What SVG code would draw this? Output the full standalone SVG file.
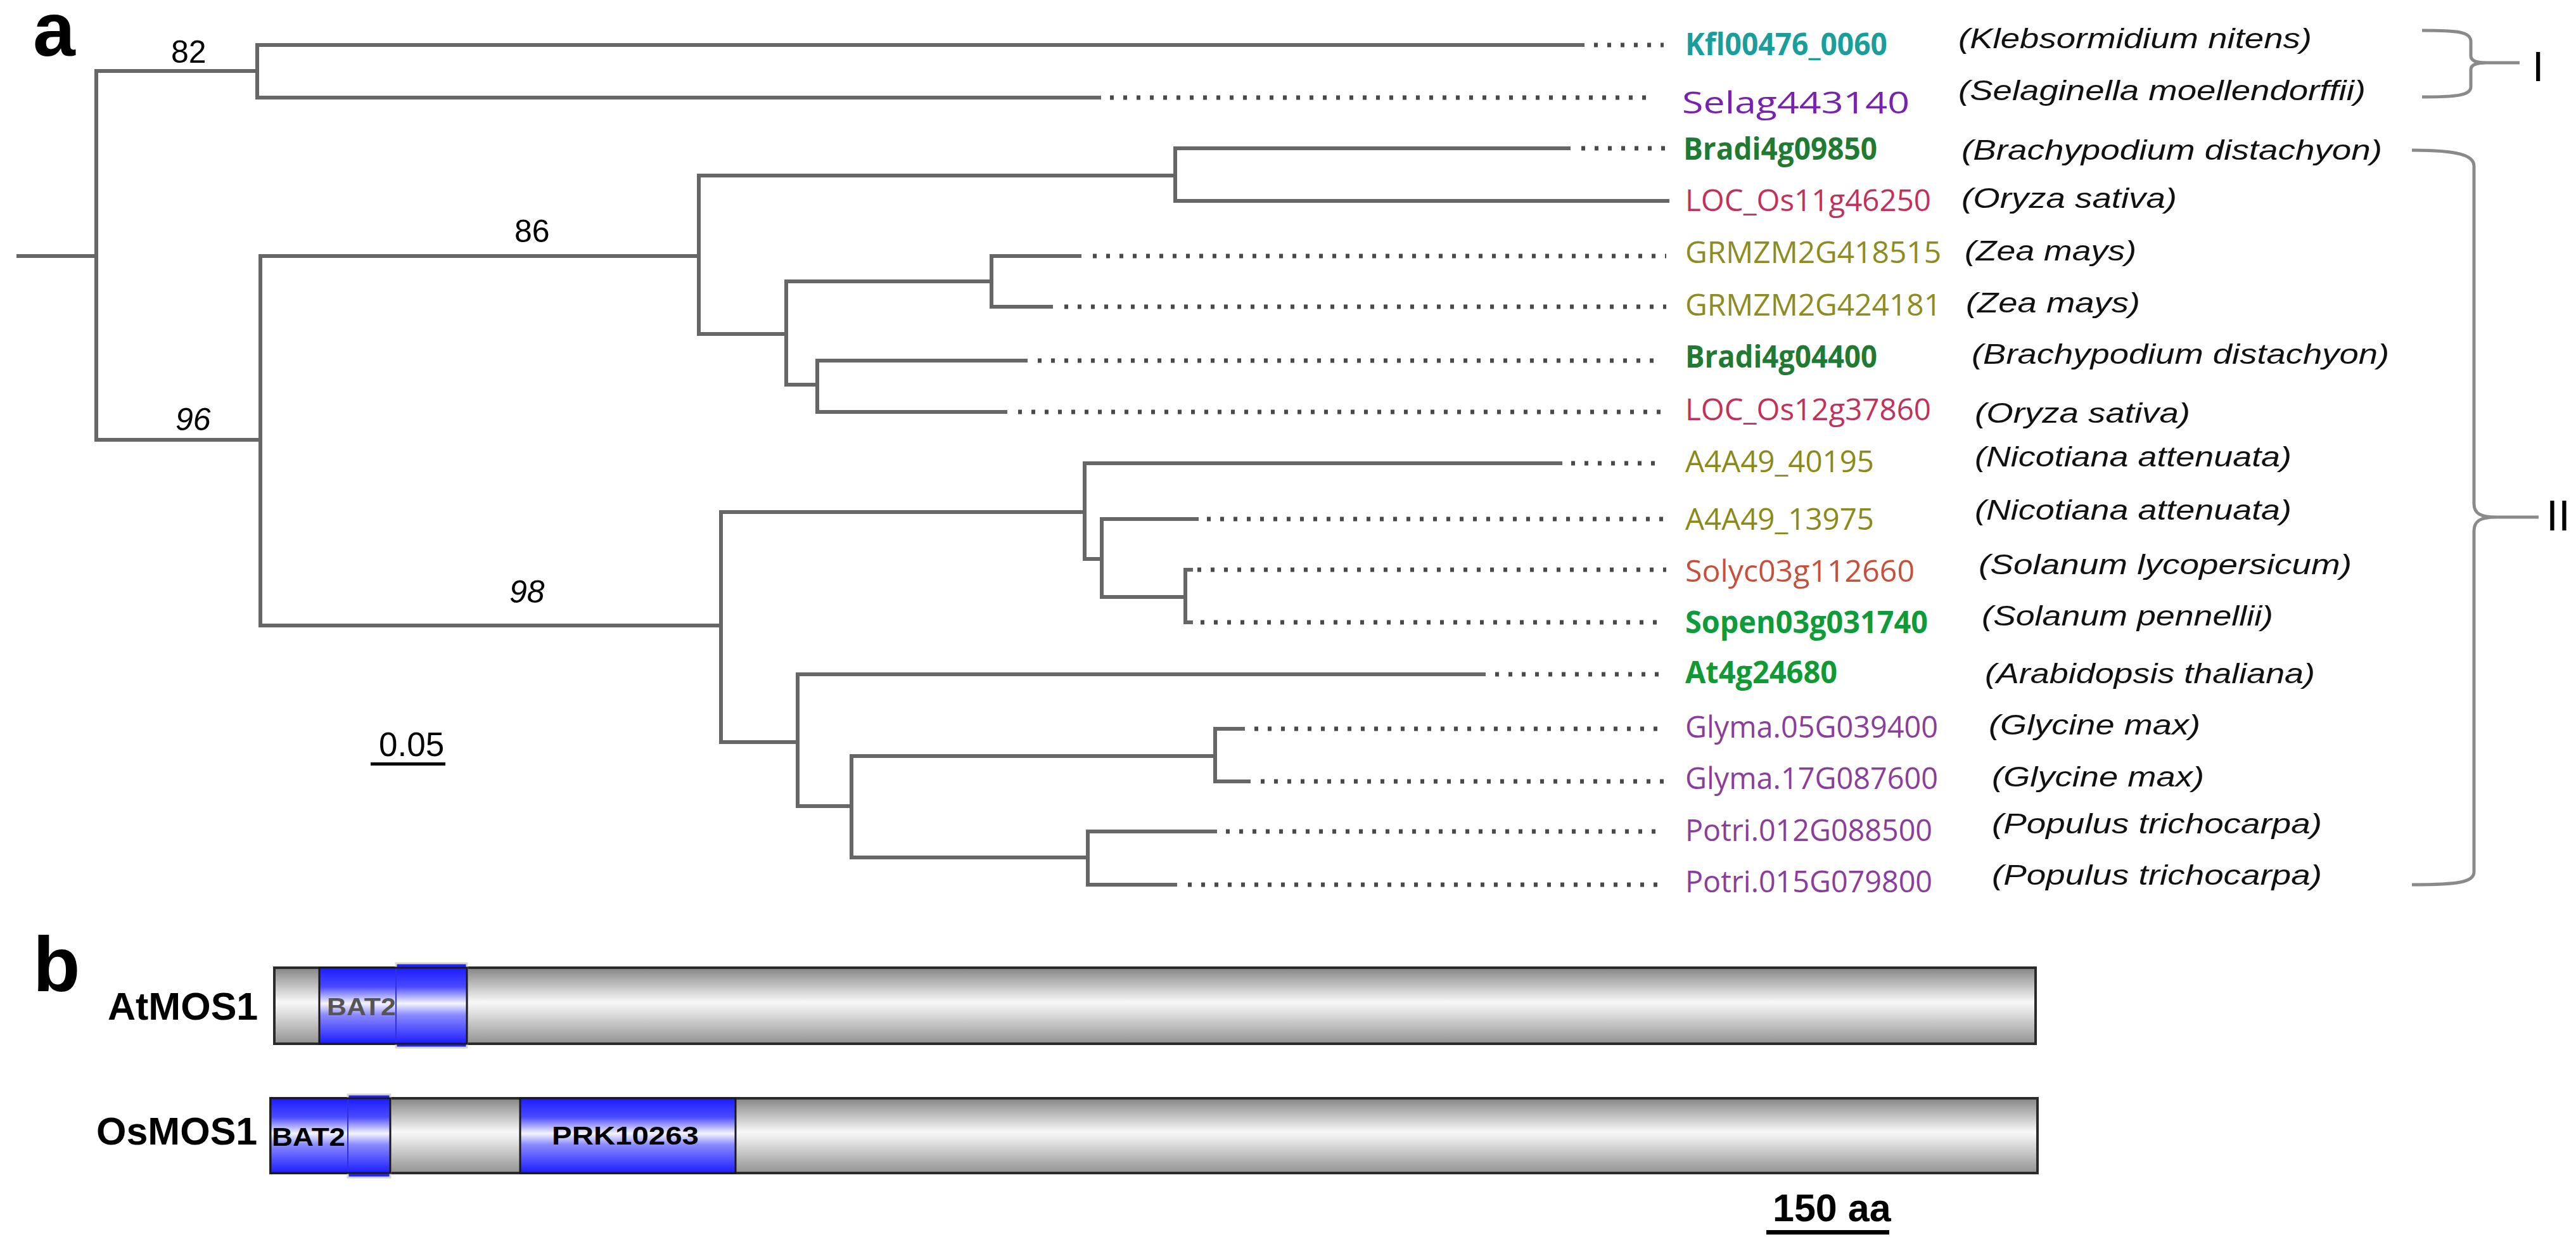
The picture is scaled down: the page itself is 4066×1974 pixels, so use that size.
<svg xmlns="http://www.w3.org/2000/svg" width="4066" height="1974" viewBox="0 0 4066 1974">
<defs>
<linearGradient id="gGray" x1="0" y1="0" x2="0" y2="1">
<stop offset="0" stop-color="#858585"/>
<stop offset="0.45" stop-color="#f8f8f8"/>
<stop offset="0.55" stop-color="#e8e8e8"/>
<stop offset="1" stop-color="#929292"/>
</linearGradient>
<linearGradient id="gBlue" x1="0" y1="0" x2="0" y2="1">
<stop offset="0" stop-color="#1c1cff"/>
<stop offset="0.25" stop-color="#4a4aff"/>
<stop offset="0.47" stop-color="#f4f4ff"/>
<stop offset="0.62" stop-color="#8a8aff"/>
<stop offset="1" stop-color="#1c1cff"/>
</linearGradient>
</defs>
<style>
.br{stroke:#666;stroke-width:6;fill:none;stroke-linecap:square}
.dt{stroke:#4a4a4a;stroke-width:7;fill:none;stroke-dasharray:6 15}
.brk{stroke:#8a8a8a;stroke-width:5;fill:none}
.gene{font-family:"Open Sans","Liberation Sans",sans-serif;font-size:48px}
.b{font-weight:bold}
.sp{font-family:"Liberation Sans",Arial,sans-serif;font-style:italic;font-size:44px;fill:#111}
.boot{font-family:"Liberation Sans",Arial,sans-serif;font-size:50px;fill:#000}
.lab{font-family:"Liberation Sans",Arial,sans-serif;font-weight:bold;fill:#000}
.bar{fill:url(#gGray);stroke:#2a2a2a;stroke-width:4}
.dom{fill:url(#gBlue);stroke:#1a1a1a;stroke-width:3}
.domx{fill:url(#gBlue);stroke:#d8d8c8;stroke-width:3}
</style>
<rect width="4066" height="1974" fill="#fff"/>

<text class="lab" x="52" y="88" font-size="120">a</text>
<text class="lab" x="52" y="1564" font-size="122">b</text>

<g id="connectors">
<path class="br" d="M29,404H152 M152,112V694 M152,112H406 M406,71V154 M406,71H2498 M406,154H1735 M152,694H411 M411,404V987 M411,404H1103 M1103,277V527 M1103,277H1855 M1855,234V317 M1855,234H2476 M1855,317H2632 M1103,527H1241 M1241,444V607 M1241,444H1565 M1565,404V484 M1565,404H1704 M1565,484H1659 M1241,607H1290 M1290,569V650 M1290,569H1619 M1290,650H1587 M411,987H1138 M1138,808V1171 M1138,808H1712 M1712,731V882 M1712,731H2463 M1712,882H1739 M1739,819V942 M1739,819H1889 M1739,942H1871 M1871,899V982 M1871,899H1880 M1871,982H1880 M1138,1171H1259 M1259,1064V1272 M1259,1064H2342 M1259,1272H1344 M1344,1193V1353 M1344,1193H1918 M1918,1150V1233 M1918,1150H1962 M1918,1233H1971 M1344,1353H1717 M1717,1312V1396 M1717,1312H1918 M1717,1396H1855"/>
<path class="dt" d="M2516,71H2626 M1752,154H2604 M2496,234H2630 M1725,404H2630 M1680,484H2630 M1638,569H2618 M1607,650H2630 M2480,731H2622 M1905,819H2630 M1890,899H2630 M1895,982H2620 M2360,1064H2620 M1980,1150H2620 M1990,1233H2630 M1935,1312H2620 M1875,1396H2620"/>
<path class="brk" d="M3823,48 C3880,48 3900,50 3900,66 L3900,88 C3900,96 3908,99 3925,99 L3977,99 M3925,99 C3908,99 3900,102 3900,110 L3900,137 C3900,150 3880,153 3823,153"/>
<path class="brk" d="M3807,237 C3880,237 3905,245 3905,262 L3905,795 C3905,810 3915,816 3940,816 L4007,816 M3940,816 C3915,816 3905,822 3905,838 L3905,1376 C3905,1392 3880,1396 3807,1396"/>
</g>

<g id="bootstrap">
<text class="boot" x="270" y="99">82</text>
<text class="boot" x="812" y="382">86</text>
<text class="boot" x="277" y="679" font-style="italic">96</text>
<text class="boot" x="804" y="951" font-style="italic">98</text>
</g>

<g id="scale-a">
<text x="598" y="1193" font-family="Liberation Sans,Arial,sans-serif" font-size="53" fill="#000">0.05</text>
<rect x="585" y="1203" width="118" height="5" fill="#000"/>
</g>

<g id="leaf-Kfl"><text class="gene b" x="2660" y="87" fill="#1a9e9c" textLength="319" lengthAdjust="spacingAndGlyphs">Kfl00476_0060</text><text class="sp" x="3091" y="76" textLength="558" lengthAdjust="spacingAndGlyphs">(Klebsormidium nitens)</text></g>
<g id="leaf-Selag"><text class="gene" x="2655" y="179" font-size="58" fill="#7a22b0" textLength="359" lengthAdjust="spacingAndGlyphs">Selag443140</text><text class="sp" x="3091" y="158" textLength="643" lengthAdjust="spacingAndGlyphs">(Selaginella moellendorffii)</text></g>
<g id="leaf-Bradi09850"><text class="gene b" x="2657" y="252" fill="#1f7a32" textLength="306" lengthAdjust="spacingAndGlyphs">Bradi4g09850</text><text class="sp" x="3096" y="252" textLength="664" lengthAdjust="spacingAndGlyphs">(Brachypodium distachyon)</text></g>
<g id="leaf-LOC11"><text class="gene" x="2660" y="333" fill="#c2305c" textLength="388" lengthAdjust="spacingAndGlyphs">LOC_Os11g46250</text><text class="sp" x="3096" y="328" textLength="340" lengthAdjust="spacingAndGlyphs">(Oryza sativa)</text></g>
<g id="leaf-GRMZM418515"><text class="gene" x="2660" y="415" fill="#8c8c20" textLength="404" lengthAdjust="spacingAndGlyphs">GRMZM2G418515</text><text class="sp" x="3101" y="411" textLength="271" lengthAdjust="spacingAndGlyphs">(Zea mays)</text></g>
<g id="leaf-GRMZM424181"><text class="gene" x="2660" y="498" fill="#8c8c20" textLength="404" lengthAdjust="spacingAndGlyphs">GRMZM2G424181</text><text class="sp" x="3103" y="493" textLength="275" lengthAdjust="spacingAndGlyphs">(Zea mays)</text></g>
<g id="leaf-Bradi04400"><text class="gene b" x="2660" y="580" fill="#1f7a32" textLength="303" lengthAdjust="spacingAndGlyphs">Bradi4g04400</text><text class="sp" x="3112" y="574" textLength="659" lengthAdjust="spacingAndGlyphs">(Brachypodium distachyon)</text></g>
<g id="leaf-LOC12"><text class="gene" x="2660" y="663" fill="#c2305c" textLength="388" lengthAdjust="spacingAndGlyphs">LOC_Os12g37860</text><text class="sp" x="3117" y="667" textLength="340" lengthAdjust="spacingAndGlyphs">(Oryza sativa)</text></g>
<g id="leaf-A4A49_40195"><text class="gene" x="2660" y="745" fill="#8a8a18" textLength="298" lengthAdjust="spacingAndGlyphs">A4A49_40195</text><text class="sp" x="3117" y="736" textLength="500" lengthAdjust="spacingAndGlyphs">(Nicotiana attenuata)</text></g>
<g id="leaf-A4A49_13975"><text class="gene" x="2660" y="836" fill="#8a8a18" textLength="298" lengthAdjust="spacingAndGlyphs">A4A49_13975</text><text class="sp" x="3117" y="820" textLength="500" lengthAdjust="spacingAndGlyphs">(Nicotiana attenuata)</text></g>
<g id="leaf-Solyc"><text class="gene" x="2660" y="918" fill="#c8503a" textLength="362" lengthAdjust="spacingAndGlyphs">Solyc03g112660</text><text class="sp" x="3123" y="906" textLength="589" lengthAdjust="spacingAndGlyphs">(Solanum lycopersicum)</text></g>
<g id="leaf-Sopen"><text class="gene b" x="2660" y="999" fill="#0c9c3c" textLength="383" lengthAdjust="spacingAndGlyphs">Sopen03g031740</text><text class="sp" x="3128" y="987" textLength="460" lengthAdjust="spacingAndGlyphs">(Solanum pennellii)</text></g>
<g id="leaf-At4g"><text class="gene b" x="2660" y="1078" fill="#109a34" textLength="240" lengthAdjust="spacingAndGlyphs">At4g24680</text><text class="sp" x="3133" y="1078" textLength="521" lengthAdjust="spacingAndGlyphs">(Arabidopsis thaliana)</text></g>
<g id="leaf-Glyma05"><text class="gene" x="2660" y="1164" fill="#8a3d9c" textLength="399" lengthAdjust="spacingAndGlyphs">Glyma.05G039400</text><text class="sp" x="3139" y="1159" textLength="334" lengthAdjust="spacingAndGlyphs">(Glycine max)</text></g>
<g id="leaf-Glyma17"><text class="gene" x="2660" y="1245" fill="#8a3d9c" textLength="399" lengthAdjust="spacingAndGlyphs">Glyma.17G087600</text><text class="sp" x="3144" y="1241" textLength="335" lengthAdjust="spacingAndGlyphs">(Glycine max)</text></g>
<g id="leaf-Potri012"><text class="gene" x="2660" y="1327" fill="#8a3d9c" textLength="390" lengthAdjust="spacingAndGlyphs">Potri.012G088500</text><text class="sp" x="3144" y="1315" textLength="521" lengthAdjust="spacingAndGlyphs">(Populus trichocarpa)</text></g>
<g id="leaf-Potri015"><text class="gene" x="2660" y="1408" fill="#8a3d9c" textLength="390" lengthAdjust="spacingAndGlyphs">Potri.015G079800</text><text class="sp" x="3144" y="1396" textLength="521" lengthAdjust="spacingAndGlyphs">(Populus trichocarpa)</text></g>

<g id="clade-labels">
<text x="3997" y="128" font-family="Liberation Sans,Arial,sans-serif" font-size="66" fill="#000">I</text>
<text x="4019" y="837" font-family="Liberation Sans,Arial,sans-serif" font-size="68" fill="#000">II</text>
</g>

<g id="AtMOS1">
<text class="lab" x="170" y="1609" font-size="61">AtMOS1</text>
<rect class="bar" x="433" y="1527" width="2780" height="120"/>
<rect class="domx" x="625" y="1520" width="112" height="133"/>
<rect class="dom" x="504" y="1527" width="233" height="120"/>
<line x1="625" y1="1529" x2="625" y2="1645" stroke="#3030e0" stroke-width="2"/>
<text x="516" y="1602" font-family="Liberation Sans,Arial,sans-serif" font-weight="bold" font-size="38" fill="#555" textLength="109" lengthAdjust="spacingAndGlyphs">BAT2</text>
</g>

<g id="OsMOS1">
<text class="lab" x="152" y="1806" font-size="61">OsMOS1</text>
<rect class="bar" x="427" y="1733" width="2789" height="118"/>
<rect class="domx" x="549" y="1727" width="67" height="131"/>
<rect class="dom" x="427" y="1733" width="189" height="118"/>
<line x1="549" y1="1735" x2="549" y2="1849" stroke="#3030e0" stroke-width="2"/>
<rect class="dom" x="821" y="1733" width="340" height="118"/>
<text x="429" y="1808" font-family="Liberation Sans,Arial,sans-serif" font-weight="bold" font-size="40" fill="#000" textLength="116" lengthAdjust="spacingAndGlyphs">BAT2</text>
<text x="871" y="1806" font-family="Liberation Sans,Arial,sans-serif" font-weight="bold" font-size="40" fill="#000" textLength="232" lengthAdjust="spacingAndGlyphs">PRK10263</text>
</g>

<g id="scale-b">
<text class="lab" x="2798" y="1927" font-size="61">150 aa</text>
<rect x="2788" y="1941" width="194" height="7" fill="#000"/>
</g>
</svg>
